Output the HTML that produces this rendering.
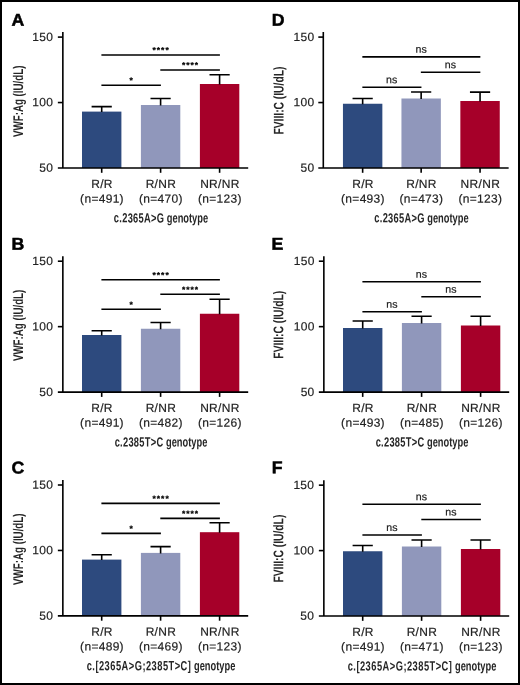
<!DOCTYPE html>
<html lang="en">
<head>
<meta charset="utf-8">
<title>Figure</title>
<style>
html,body{margin:0;padding:0;background:#fff;}
body{width:520px;height:685px;overflow:hidden;position:relative;}
svg{display:block;position:absolute;left:0;top:0;}
text{font-family:"Liberation Sans", sans-serif;fill:#222;}
.t{font-size:12px;letter-spacing:0.3px;stroke:#222;stroke-width:0.18px;}
.pl{font-size:17.2px;font-weight:bold;fill:#000;stroke:#000;stroke-width:0.5px;}
.ax{font-size:13.3px;font-weight:bold;fill:#262626;}
.ay{font-size:14px;font-weight:bold;fill:#262626;}
.xl{letter-spacing:0.4px;}
.xl2{letter-spacing:0.68px;}
.ns{font-size:10.6px;stroke:#222;stroke-width:0.2px;}
.st{font-size:8.5px;font-weight:bold;fill:#000;stroke:#000;stroke-width:0.2px;letter-spacing:0.95px;}
.ln{stroke:#000;stroke-width:1.6;fill:none;}
</style>
</head>
<body>
<svg width="520" height="685" viewBox="0 0 520 685">
<rect x="0" y="0" width="520" height="685" fill="#fff"/>
<g transform="translate(0,0)">
<text class="pl" transform="translate(11.4 25.7) matrix(1.03 0.0005 0 1 0 0)">A</text>
<rect x="82" y="111.6" width="39.4" height="56.4" fill="#2d4a7e"/>
<path class="ln" d="M101.7 112.1V106.6M91.6 106.6H111.8"/>
<rect x="140.9" y="105" width="39.4" height="63" fill="#9097bb"/>
<path class="ln" d="M160.6 105.5V98.5M150.5 98.5H170.7"/>
<rect x="199.9" y="84" width="39.4" height="84" fill="#a60029"/>
<path class="ln" d="M219.6 84.5V74.75M209.5 74.75H229.7"/>
<path class="ln" d="M62.85 32.1V168.8M57.85 168H248.2"/>
<path class="ln" d="M57.85 37.1H62.85"/>
<path class="ln" d="M57.85 102.55H62.85"/>
<path class="ln" d="M101.7 168V172.8"/>
<path class="ln" d="M160.6 168V172.8"/>
<path class="ln" d="M219.6 168V172.8"/>
<text class="t" transform="translate(53.2 40.9) matrix(1 0.0005 0 1 0 0)" text-anchor="end">150</text>
<text class="t" transform="translate(53.2 106.35) matrix(1 0.0005 0 1 0 0)" text-anchor="end">100</text>
<text class="t" transform="translate(53.2 171.8) matrix(1 0.0005 0 1 0 0)" text-anchor="end">50</text>
<text class="t" transform="translate(102 187.9) matrix(1 0.0005 0 1 0 0)" text-anchor="middle">R/R</text>
<text class="t" transform="translate(102 202.7) matrix(1 0.0005 0 1 0 0)" text-anchor="middle">(n=491)</text>
<text class="t" transform="translate(160.9 187.9) matrix(1 0.0005 0 1 0 0)" text-anchor="middle">R/NR</text>
<text class="t" transform="translate(160.9 202.7) matrix(1 0.0005 0 1 0 0)" text-anchor="middle">(n=470)</text>
<text class="t" transform="translate(219.9 187.9) matrix(1 0.0005 0 1 0 0)" text-anchor="middle">NR/NR</text>
<text class="t" transform="translate(219.9 202.7) matrix(1 0.0005 0 1 0 0)" text-anchor="middle">(n=123)</text>
<text class="ax" transform="translate(161 222.4) matrix(0.7 0.0005 0 1 0 0)" text-anchor="middle"><tspan class="xl">c.2365A&gt;G</tspan> genotype</text>
<text class="ay" transform="translate(23.1 101.3) rotate(-90) matrix(0.6968 0.0005 0 1 0 0)" text-anchor="middle">VWF:Ag (IU/dL)</text>
<path class="ln" d="M101.4 55H219.9"/>
<text class="st" transform="translate(161.12 53.1) matrix(1 0.0005 0 1 0 0)" text-anchor="middle">****</text>
<path class="ln" d="M160.3 70H219.9"/>
<text class="st" transform="translate(190.57 68.1) matrix(1 0.0005 0 1 0 0)" text-anchor="middle">****</text>
<path class="ln" d="M101.4 85.2H160.9"/>
<text class="st" transform="translate(131.62 83.3) matrix(1 0.0005 0 1 0 0)" text-anchor="middle">*</text>
</g>
<g transform="translate(0,224.1)">
<text class="pl" transform="translate(11.4 25.7) matrix(1.03 0.0005 0 1 0 0)">B</text>
<rect x="82" y="110.9" width="39.4" height="57.1" fill="#2d4a7e"/>
<path class="ln" d="M101.7 111.4V106.65M91.6 106.65H111.8"/>
<rect x="140.9" y="104.65" width="39.4" height="63.35" fill="#9097bb"/>
<path class="ln" d="M160.6 105.15V98.4M150.5 98.4H170.7"/>
<rect x="199.9" y="89.65" width="39.4" height="78.35" fill="#a60029"/>
<path class="ln" d="M219.6 90.15V75.15M209.5 75.15H229.7"/>
<path class="ln" d="M62.85 32.1V168.8M57.85 168H248.2"/>
<path class="ln" d="M57.85 37.1H62.85"/>
<path class="ln" d="M57.85 102.55H62.85"/>
<path class="ln" d="M101.7 168V172.8"/>
<path class="ln" d="M160.6 168V172.8"/>
<path class="ln" d="M219.6 168V172.8"/>
<text class="t" transform="translate(53.2 40.9) matrix(1 0.0005 0 1 0 0)" text-anchor="end">150</text>
<text class="t" transform="translate(53.2 106.35) matrix(1 0.0005 0 1 0 0)" text-anchor="end">100</text>
<text class="t" transform="translate(53.2 171.8) matrix(1 0.0005 0 1 0 0)" text-anchor="end">50</text>
<text class="t" transform="translate(102 187.9) matrix(1 0.0005 0 1 0 0)" text-anchor="middle">R/R</text>
<text class="t" transform="translate(102 202.7) matrix(1 0.0005 0 1 0 0)" text-anchor="middle">(n=491)</text>
<text class="t" transform="translate(160.9 187.9) matrix(1 0.0005 0 1 0 0)" text-anchor="middle">R/NR</text>
<text class="t" transform="translate(160.9 202.7) matrix(1 0.0005 0 1 0 0)" text-anchor="middle">(n=482)</text>
<text class="t" transform="translate(219.9 187.9) matrix(1 0.0005 0 1 0 0)" text-anchor="middle">NR/NR</text>
<text class="t" transform="translate(219.9 202.7) matrix(1 0.0005 0 1 0 0)" text-anchor="middle">(n=126)</text>
<text class="ax" transform="translate(161 222.4) matrix(0.7 0.0005 0 1 0 0)" text-anchor="middle"><tspan class="xl">c.2385T&gt;C</tspan> genotype</text>
<text class="ay" transform="translate(23.1 101.3) rotate(-90) matrix(0.6968 0.0005 0 1 0 0)" text-anchor="middle">VWF:Ag (IU/dL)</text>
<path class="ln" d="M101.4 55.7H219.9"/>
<text class="st" transform="translate(161.12 53.8) matrix(1 0.0005 0 1 0 0)" text-anchor="middle">****</text>
<path class="ln" d="M160.3 70.2H219.9"/>
<text class="st" transform="translate(190.57 68.3) matrix(1 0.0005 0 1 0 0)" text-anchor="middle">****</text>
<path class="ln" d="M101.4 85.2H160.9"/>
<text class="st" transform="translate(131.62 83.3) matrix(1 0.0005 0 1 0 0)" text-anchor="middle">*</text>
</g>
<g transform="translate(0,447.9)">
<text class="pl" transform="translate(11.4 25.7) matrix(1.03 0.0005 0 1 0 0)">C</text>
<rect x="82" y="111.7" width="39.4" height="56.3" fill="#2d4a7e"/>
<path class="ln" d="M101.7 112.2V106.8M91.6 106.8H111.8"/>
<rect x="140.9" y="105" width="39.4" height="63" fill="#9097bb"/>
<path class="ln" d="M160.6 105.5V98.7M150.5 98.7H170.7"/>
<rect x="199.9" y="84.3" width="39.4" height="83.7" fill="#a60029"/>
<path class="ln" d="M219.6 84.8V74.9M209.5 74.9H229.7"/>
<path class="ln" d="M62.85 32.1V168.8M57.85 168H248.2"/>
<path class="ln" d="M57.85 37.1H62.85"/>
<path class="ln" d="M57.85 102.55H62.85"/>
<path class="ln" d="M101.7 168V172.8"/>
<path class="ln" d="M160.6 168V172.8"/>
<path class="ln" d="M219.6 168V172.8"/>
<text class="t" transform="translate(53.2 40.9) matrix(1 0.0005 0 1 0 0)" text-anchor="end">150</text>
<text class="t" transform="translate(53.2 106.35) matrix(1 0.0005 0 1 0 0)" text-anchor="end">100</text>
<text class="t" transform="translate(53.2 171.8) matrix(1 0.0005 0 1 0 0)" text-anchor="end">50</text>
<text class="t" transform="translate(102 187.9) matrix(1 0.0005 0 1 0 0)" text-anchor="middle">R/R</text>
<text class="t" transform="translate(102 202.7) matrix(1 0.0005 0 1 0 0)" text-anchor="middle">(n=489)</text>
<text class="t" transform="translate(160.9 187.9) matrix(1 0.0005 0 1 0 0)" text-anchor="middle">R/NR</text>
<text class="t" transform="translate(160.9 202.7) matrix(1 0.0005 0 1 0 0)" text-anchor="middle">(n=469)</text>
<text class="t" transform="translate(219.9 187.9) matrix(1 0.0005 0 1 0 0)" text-anchor="middle">NR/NR</text>
<text class="t" transform="translate(219.9 202.7) matrix(1 0.0005 0 1 0 0)" text-anchor="middle">(n=123)</text>
<text class="ax" transform="translate(161 222.4) matrix(0.7 0.0005 0 1 0 0)" text-anchor="middle"><tspan class="xl2">c.[2365A&gt;G;2385T&gt;C]</tspan> genotype</text>
<text class="ay" transform="translate(23.1 101.3) rotate(-90) matrix(0.6968 0.0005 0 1 0 0)" text-anchor="middle">VWF:Ag (IU/dL)</text>
<path class="ln" d="M101.4 55.5H219.9"/>
<text class="st" transform="translate(161.12 53.6) matrix(1 0.0005 0 1 0 0)" text-anchor="middle">****</text>
<path class="ln" d="M160.3 70.5H219.9"/>
<text class="st" transform="translate(190.57 68.6) matrix(1 0.0005 0 1 0 0)" text-anchor="middle">****</text>
<path class="ln" d="M101.4 85.5H160.9"/>
<text class="st" transform="translate(131.62 83.6) matrix(1 0.0005 0 1 0 0)" text-anchor="middle">*</text>
</g>
<g transform="translate(260.45,0)">
<text class="pl" transform="translate(11.4 25.7) matrix(1.03 0.0005 0 1 0 0)">D</text>
<rect x="82.5" y="103.75" width="39.4" height="64.25" fill="#2d4a7e"/>
<path class="ln" d="M102.2 104.25V98.5M92.1 98.5H112.3"/>
<rect x="141" y="98.5" width="39.4" height="69.5" fill="#9097bb"/>
<path class="ln" d="M160.7 99V92M150.6 92H170.8"/>
<rect x="199.9" y="101" width="39.4" height="67" fill="#a60029"/>
<path class="ln" d="M219.6 101.5V92.1M209.5 92.1H229.7"/>
<path class="ln" d="M62.85 32.1V168.8M57.85 168H248.2"/>
<path class="ln" d="M57.85 37.1H62.85"/>
<path class="ln" d="M57.85 102.55H62.85"/>
<path class="ln" d="M102.2 168V172.8"/>
<path class="ln" d="M160.7 168V172.8"/>
<path class="ln" d="M219.6 168V172.8"/>
<text class="t" transform="translate(54 40.9) matrix(1 0.0005 0 1 0 0)" text-anchor="end">150</text>
<text class="t" transform="translate(54 106.35) matrix(1 0.0005 0 1 0 0)" text-anchor="end">100</text>
<text class="t" transform="translate(54 171.8) matrix(1 0.0005 0 1 0 0)" text-anchor="end">50</text>
<text class="t" transform="translate(102.5 187.9) matrix(1 0.0005 0 1 0 0)" text-anchor="middle">R/R</text>
<text class="t" transform="translate(102.5 202.7) matrix(1 0.0005 0 1 0 0)" text-anchor="middle">(n=493)</text>
<text class="t" transform="translate(161 187.9) matrix(1 0.0005 0 1 0 0)" text-anchor="middle">R/NR</text>
<text class="t" transform="translate(161 202.7) matrix(1 0.0005 0 1 0 0)" text-anchor="middle">(n=473)</text>
<text class="t" transform="translate(219.9 187.9) matrix(1 0.0005 0 1 0 0)" text-anchor="middle">NR/NR</text>
<text class="t" transform="translate(219.9 202.7) matrix(1 0.0005 0 1 0 0)" text-anchor="middle">(n=123)</text>
<text class="ax" transform="translate(161 222.4) matrix(0.7 0.0005 0 1 0 0)" text-anchor="middle"><tspan class="xl">c.2365A&gt;G</tspan> genotype</text>
<text class="ay" transform="translate(23.1 100.6) rotate(-90) matrix(0.7350 0.0005 0 1 0 0)" text-anchor="middle">FVIII:C (IU/dL)</text>
<path class="ln" d="M101.9 56.9H219.9"/>
<text class="ns" transform="translate(160.7 52.8) matrix(1 0.0005 0 1 0 0)" text-anchor="middle">ns</text>
<path class="ln" d="M160.4 72.25H219.9"/>
<text class="ns" transform="translate(189.95 68.15) matrix(1 0.0005 0 1 0 0)" text-anchor="middle">ns</text>
<path class="ln" d="M101.9 87.25H161"/>
<text class="ns" transform="translate(131.25 83.15) matrix(1 0.0005 0 1 0 0)" text-anchor="middle">ns</text>
</g>
<g transform="translate(261,224.1)">
<text class="pl" transform="translate(10.6 25.7) matrix(1.03 0.0005 0 1 0 0)">E</text>
<rect x="82" y="103.9" width="39.4" height="64.1" fill="#2d4a7e"/>
<path class="ln" d="M101.7 104.4V96.9M91.6 96.9H111.8"/>
<rect x="140.9" y="98.9" width="39.4" height="69.1" fill="#9097bb"/>
<path class="ln" d="M160.6 99.4V92.15M150.5 92.15H170.7"/>
<rect x="199.9" y="101.4" width="39.4" height="66.6" fill="#a60029"/>
<path class="ln" d="M219.6 101.9V92.15M209.5 92.15H229.7"/>
<path class="ln" d="M62.85 32.1V168.8M57.85 168H248.2"/>
<path class="ln" d="M57.85 37.1H62.85"/>
<path class="ln" d="M57.85 102.55H62.85"/>
<path class="ln" d="M101.7 168V172.8"/>
<path class="ln" d="M160.6 168V172.8"/>
<path class="ln" d="M219.6 168V172.8"/>
<text class="t" transform="translate(53.6 40.9) matrix(1 0.0005 0 1 0 0)" text-anchor="end">150</text>
<text class="t" transform="translate(53.6 106.35) matrix(1 0.0005 0 1 0 0)" text-anchor="end">100</text>
<text class="t" transform="translate(53.6 171.8) matrix(1 0.0005 0 1 0 0)" text-anchor="end">50</text>
<text class="t" transform="translate(102 187.9) matrix(1 0.0005 0 1 0 0)" text-anchor="middle">R/R</text>
<text class="t" transform="translate(102 202.7) matrix(1 0.0005 0 1 0 0)" text-anchor="middle">(n=493)</text>
<text class="t" transform="translate(160.9 187.9) matrix(1 0.0005 0 1 0 0)" text-anchor="middle">R/NR</text>
<text class="t" transform="translate(160.9 202.7) matrix(1 0.0005 0 1 0 0)" text-anchor="middle">(n=485)</text>
<text class="t" transform="translate(219.9 187.9) matrix(1 0.0005 0 1 0 0)" text-anchor="middle">NR/NR</text>
<text class="t" transform="translate(219.9 202.7) matrix(1 0.0005 0 1 0 0)" text-anchor="middle">(n=126)</text>
<text class="ax" transform="translate(161 222.4) matrix(0.7 0.0005 0 1 0 0)" text-anchor="middle"><tspan class="xl">c.2385T&gt;C</tspan> genotype</text>
<text class="ay" transform="translate(22.3 100.6) rotate(-90) matrix(0.7350 0.0005 0 1 0 0)" text-anchor="middle">FVIII:C (IU/dL)</text>
<path class="ln" d="M101.4 57.65H219.9"/>
<text class="ns" transform="translate(160.45 53.55) matrix(1 0.0005 0 1 0 0)" text-anchor="middle">ns</text>
<path class="ln" d="M160.3 72.65H219.9"/>
<text class="ns" transform="translate(189.9 68.55) matrix(1 0.0005 0 1 0 0)" text-anchor="middle">ns</text>
<path class="ln" d="M101.4 87.65H160.9"/>
<text class="ns" transform="translate(130.95 83.55) matrix(1 0.0005 0 1 0 0)" text-anchor="middle">ns</text>
</g>
<g transform="translate(261,448.05)">
<text class="pl" transform="translate(10.8 25.2) matrix(1.03 0.0005 0 1 0 0)">F</text>
<rect x="82" y="103.2" width="39.4" height="64.8" fill="#2d4a7e"/>
<path class="ln" d="M101.7 103.7V97.45M91.6 97.45H111.8"/>
<rect x="140.9" y="98.45" width="39.4" height="69.55" fill="#9097bb"/>
<path class="ln" d="M160.6 98.95V91.95M150.5 91.95H170.7"/>
<rect x="199.9" y="100.95" width="39.4" height="67.05" fill="#a60029"/>
<path class="ln" d="M219.6 101.45V91.95M209.5 91.95H229.7"/>
<path class="ln" d="M62.85 32.1V168.8M57.85 168H248.2"/>
<path class="ln" d="M57.85 37.1H62.85"/>
<path class="ln" d="M57.85 102.55H62.85"/>
<path class="ln" d="M101.7 168V172.8"/>
<path class="ln" d="M160.6 168V172.8"/>
<path class="ln" d="M219.6 168V172.8"/>
<text class="t" transform="translate(53.3 40.9) matrix(1 0.0005 0 1 0 0)" text-anchor="end">150</text>
<text class="t" transform="translate(53.3 106.35) matrix(1 0.0005 0 1 0 0)" text-anchor="end">100</text>
<text class="t" transform="translate(53.3 171.8) matrix(1 0.0005 0 1 0 0)" text-anchor="end">50</text>
<text class="t" transform="translate(102 187.9) matrix(1 0.0005 0 1 0 0)" text-anchor="middle">R/R</text>
<text class="t" transform="translate(102 202.7) matrix(1 0.0005 0 1 0 0)" text-anchor="middle">(n=491)</text>
<text class="t" transform="translate(160.9 187.9) matrix(1 0.0005 0 1 0 0)" text-anchor="middle">R/NR</text>
<text class="t" transform="translate(160.9 202.7) matrix(1 0.0005 0 1 0 0)" text-anchor="middle">(n=471)</text>
<text class="t" transform="translate(219.9 187.9) matrix(1 0.0005 0 1 0 0)" text-anchor="middle">NR/NR</text>
<text class="t" transform="translate(219.9 202.7) matrix(1 0.0005 0 1 0 0)" text-anchor="middle">(n=123)</text>
<text class="ax" transform="translate(161 222.4) matrix(0.7 0.0005 0 1 0 0)" text-anchor="middle"><tspan class="xl2">c.[2365A&gt;G;2385T&gt;C]</tspan> genotype</text>
<text class="ay" transform="translate(22.3 100.6) rotate(-90) matrix(0.7350 0.0005 0 1 0 0)" text-anchor="middle">FVIII:C (IU/dL)</text>
<path class="ln" d="M101.4 56.2H219.9"/>
<text class="ns" transform="translate(160.45 52.1) matrix(1 0.0005 0 1 0 0)" text-anchor="middle">ns</text>
<path class="ln" d="M160.3 71.45H219.9"/>
<text class="ns" transform="translate(189.9 67.35) matrix(1 0.0005 0 1 0 0)" text-anchor="middle">ns</text>
<path class="ln" d="M101.4 86.95H160.9"/>
<text class="ns" transform="translate(130.95 82.85) matrix(1 0.0005 0 1 0 0)" text-anchor="middle">ns</text>
</g>
<path d="M0 0H520V685H0Z M2 2V683H518V2Z" fill="#000" fill-rule="evenodd"/>
</svg>
</body>
</html>
